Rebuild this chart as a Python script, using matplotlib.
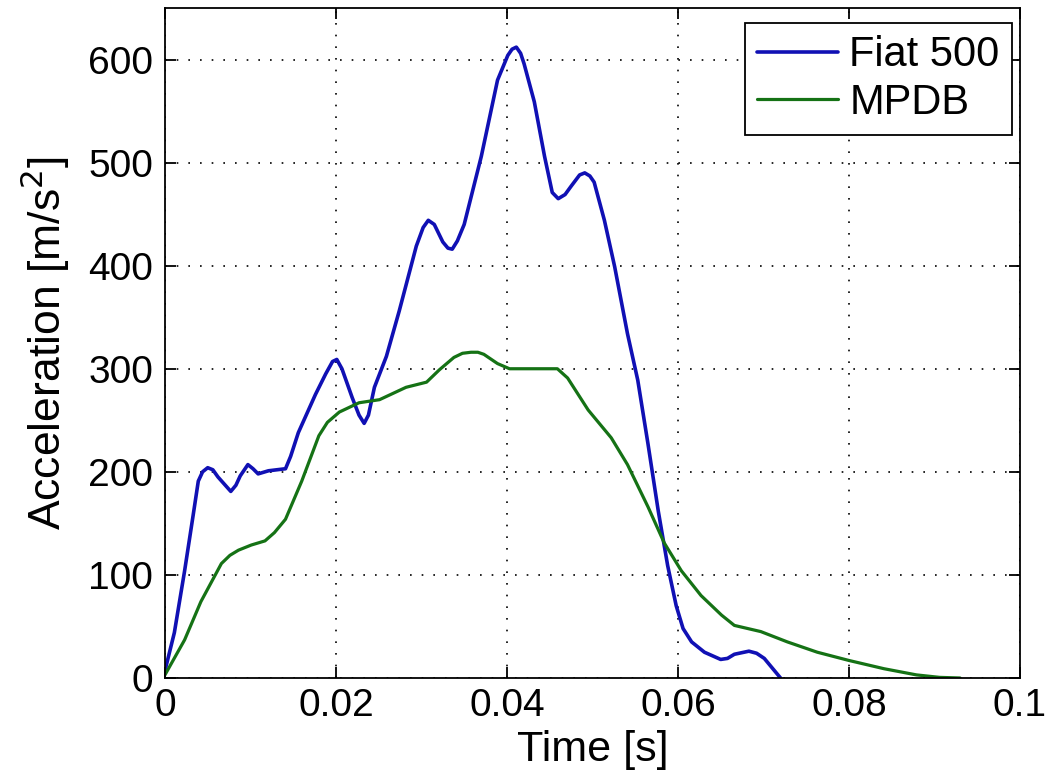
import numpy as np
import matplotlib.pyplot as plt

# Fiat 500 crash pulse
fiat_t = [0, 0.0011, 0.0023, 0.0033, 0.0039, 0.0044, 0.005, 0.0056, 0.0062, 0.0077,
          0.0083, 0.0088, 0.0097, 0.0103, 0.0109, 0.0121, 0.0141, 0.0147, 0.0156, 0.0176,
          0.0188, 0.0196, 0.0201, 0.0207, 0.0219, 0.0227, 0.0233, 0.0238, 0.0245, 0.0259,
          0.0274, 0.0294, 0.0302, 0.0308, 0.0315, 0.0325, 0.0331, 0.0336, 0.0342, 0.035,
          0.037, 0.0389, 0.0401, 0.0406, 0.0411, 0.0416, 0.042, 0.0432, 0.0444, 0.0453,
          0.046, 0.0468, 0.0475, 0.0485, 0.0491, 0.0497, 0.0502, 0.0514, 0.0526, 0.0541,
          0.0553, 0.0565, 0.0577, 0.0588, 0.0598, 0.0606, 0.0616, 0.0631, 0.065, 0.0658,
          0.0666, 0.0683, 0.0692, 0.0701, 0.072]
fiat_a = [7, 44, 104, 158, 191, 200, 204, 202, 195, 181,
          187, 196, 207, 203, 198, 201, 203, 215, 238, 275,
          295, 307, 309, 300, 272, 255, 247, 255, 282, 312,
          356, 419, 437, 444, 440, 423, 417, 416, 424, 440,
          506, 580, 604, 610, 612, 606, 596, 559, 506, 471,
          465, 469, 477, 488, 490, 487, 481, 444, 399, 334,
          289, 227, 162, 109, 70, 48, 35, 25, 18, 19,
          23, 26, 24, 19, 0]

# MPDB barrier pulse
mpdb_t = [0, 0.0023, 0.0042, 0.0066, 0.0076, 0.0086, 0.0101, 0.0117, 0.0128, 0.0141,
          0.016, 0.018, 0.019, 0.0204, 0.0227, 0.0251, 0.0282, 0.0306, 0.0321, 0.0338,
          0.0348, 0.0358, 0.0366, 0.0373, 0.0389, 0.0403, 0.0459, 0.0471, 0.0495, 0.0522,
          0.0541, 0.0565, 0.0584, 0.0604, 0.0627, 0.0651, 0.0666, 0.0697, 0.0728, 0.0763,
          0.08, 0.0841, 0.0879, 0.0906, 0.093]
mpdb_a = [3, 37, 74, 111, 119, 124, 129, 133, 141, 154,
          191, 235, 248, 258, 267, 270, 282, 287, 299, 311,
          315, 316, 316, 314, 305, 300, 300, 291, 260, 233,
          207, 166, 131, 104, 80, 61, 51, 45, 35, 25,
          17, 9, 3, 0.6, 0]

plt.rcParams["font.family"] = ["Liberation Sans", "DejaVu Sans"]

fig = plt.figure(figsize=(10.48, 7.81), dpi=100)
ax = fig.add_axes([0.1574, 0.1319, 0.8158, 0.8579])

ax.plot(fiat_t, fiat_a, color="#1010b4", lw=2.6, label="Fiat 500",
        solid_joinstyle="round", solid_capstyle="round")
ax.plot(mpdb_t, mpdb_a, color="#157215", lw=2.3, label="MPDB",
        solid_joinstyle="round", solid_capstyle="round")

ax.set_xlim(0, 0.1)
ax.set_ylim(0, 650)
ax.set_xticks([0, 0.02, 0.04, 0.06, 0.08, 0.1])
ax.set_xticklabels(["0", "0.02", "0.04", "0.06", "0.08", "0.1"])
ax.set_yticks([0, 100, 200, 300, 400, 500, 600])
ax.grid(True, color="black", linestyle=(0, (1, 6)), linewidth=1.2)
ax.tick_params(direction="in", length=8, width=1.3, top=True, right=True,
               labelsize=28)
ax.tick_params(axis="x", pad=7)
ax.tick_params(axis="y", pad=8.5)
for s in ax.spines.values():
    s.set_linewidth(1.3)

ax.set_xlabel("Time [s]", fontsize=31)
ax.set_ylabel("Acceleration [m/s$^2$]", fontsize=32)
ax.xaxis.set_label_coords(0.5, -0.077)
ax.yaxis.set_label_coords(-0.109, 0.5)

leg = ax.legend(loc="upper right", bbox_to_anchor=(0.9906, 0.9776), borderaxespad=0,
                fontsize=30, fancybox=False, framealpha=1, edgecolor="black",
                handlelength=1.95, handletextpad=0.26, borderpad=0.3,
                labelspacing=0.17)
leg.get_frame().set_linewidth(1.3)

fig.savefig("out.png", dpi=100)
